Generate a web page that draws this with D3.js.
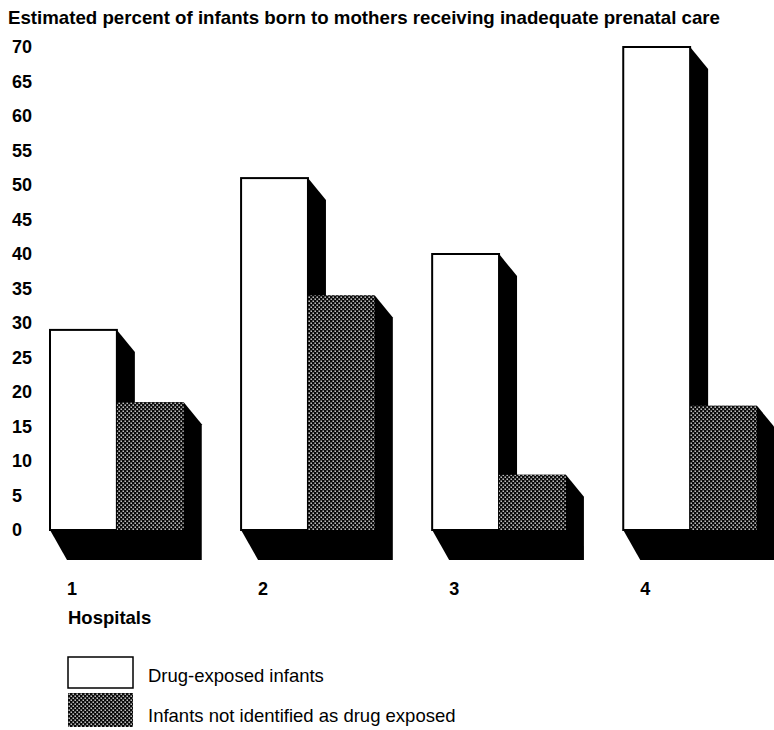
<!DOCTYPE html>
<html>
<head>
<meta charset="utf-8">
<script src="https://cdn.jsdelivr.net/npm/d3@7"></script>
<style>
  body { margin: 0; background: #fff; }
  svg { display: block; font-family: "Liberation Sans", Arial, sans-serif; }
</style>
</head>
<body>
<div id="bar-chart"></div>
<script>
var hospitals = ['1', '2', '3', '4'];
var seriesNames = ['Drug-exposed infants', 'Infants not identified as drug exposed'];
var drugExposed = [29, 51, 40, 70];
var notIdentified = [18.5, 34, 8, 18];
var yTicks = [0, 5, 10, 15, 20, 25, 30, 35, 40, 45, 50, 55, 60, 65, 70];

var width = 774, height = 730;
var depthTop = {dx: 18, dy: 22}, depthBottom = {dx: 17, dy: 30};

var newData = [];
hospitals.forEach(function(h, i){
  newData.push({hospital: h, series: 0, value: drugExposed[i]});
  newData.push({hospital: h, series: 1, value: notIdentified[i]});
});

var svg = d3.select('#bar-chart')
.append('svg')
.attr('width', width)
.attr('height', height);

var defs = svg.append('defs');
var pat = defs.append('pattern')
.attr('id', 'dots')
.attr('patternUnits', 'userSpaceOnUse')
.attr('width', 4)
.attr('height', 4);
pat.append('rect').attr('width', 4).attr('height', 4).attr('fill', '#0a0a0a');
pat.append('rect').attr('x', 0.5).attr('y', 0.5).attr('width', 1.4).attr('height', 1.4).attr('fill', '#e8e8e8');
pat.append('rect').attr('x', 2.5).attr('y', 2.5).attr('width', 1.4).attr('height', 1.4).attr('fill', '#e8e8e8');

var xScale = d3.scaleBand()
.domain(hospitals)
.range([50, 757])
.paddingInner(0.3)
.paddingOuter(0);

var xInner = d3.scaleBand()
.domain([0, 1])
.range([0, xScale.bandwidth()]);

var yScale = d3.scaleLinear()
.domain([0, 70])
.range([530, 47]);

svg.append('text')
.attr('x', 8)
.attr('y', 24)
.attr('font-size', 18.5)
.attr('font-weight', 'bold')
.attr('textLength', 712)
.attr('lengthAdjust', 'spacingAndGlyphs')
.text('Estimated percent of infants born to mothers receiving inadequate prenatal care');

var vAxis = d3.axisLeft(yScale)
.tickValues(yTicks)
.tickSize(0)
.tickPadding(0);

var vRuler = svg.append('g')
.attr('transform', 'translate(12,0)')
.call(vAxis);
vRuler.select('.domain').remove();
vRuler.selectAll('text')
.attr('text-anchor', 'start')
.attr('x', 0)
.attr('fill', '#000')
.style('font-size', '18px')
.style('font-weight', 'bold')
.style('font-family', '"Liberation Sans", Arial, sans-serif');

// black extruded shadows first, then the faces
svg.append('g')
.selectAll('path')
.data(newData)
.enter()
.append('path')
.attr('fill', '#000')
.attr('d', function(d){
  var x0 = xScale(d.hospital) + xInner(d.series);
  var x1 = x0 + xInner.bandwidth();
  var yb = yScale(0), yt = yScale(d.value);
  return 'M' + x0 + ',' + yb +
    'L' + (x0 + depthBottom.dx) + ',' + (yb + depthBottom.dy) +
    'L' + (x1 + depthTop.dx) + ',' + (yb + depthBottom.dy) +
    'L' + (x1 + depthTop.dx) + ',' + (yt + depthTop.dy) +
    'L' + x1 + ',' + yt +
    'L' + x0 + ',' + yt + 'Z';
});

svg.append('g')
.selectAll('rect')
.data(newData)
.enter()
.append('rect')
.attr('x', function(d){ return xScale(d.hospital) + xInner(d.series); })
.attr('y', function(d){ return yScale(d.value); })
.attr('width', xInner.bandwidth())
.attr('height', function(d){ return yScale(0) - yScale(d.value); })
.attr('fill', function(d){ return d.series == 0 ? '#fff' : 'url(#dots)'; })
.attr('stroke', function(d){ return d.series == 0 ? '#000' : 'none'; })
.attr('stroke-width', 2);

svg.append('g')
.selectAll('text')
.data(hospitals)
.enter()
.append('text')
.attr('x', function(d){ return xScale(d) + 22; })
.attr('y', 595)
.attr('text-anchor', 'middle')
.attr('font-size', 18)
.attr('font-weight', 'bold')
.text(function(d){ return d; });

svg.append('text')
.attr('x', 68)
.attr('y', 624)
.attr('font-size', 18.5)
.attr('font-weight', 'bold')
.text('Hospitals');

var legend = svg.append('g')
.selectAll('g')
.data(seriesNames)
.enter()
.append('g')
.attr('transform', function(d, i){ return 'translate(68,' + (657 + i * 36) + ')'; });

legend.append('rect')
.attr('width', 65)
.attr('height', function(d, i){ return i == 0 ? 31 : 34; })
.attr('fill', function(d, i){ return i == 0 ? '#fff' : 'url(#dots)'; })
.attr('stroke', function(d, i){ return i == 0 ? '#000' : 'none'; })
.attr('stroke-width', 1.5);

legend.append('text')
.attr('x', 80)
.attr('y', function(d, i){ return i == 0 ? 25 : 29; })
.attr('font-size', 18.5)
.text(function(d){ return d; });
</script>
</body>
</html>
